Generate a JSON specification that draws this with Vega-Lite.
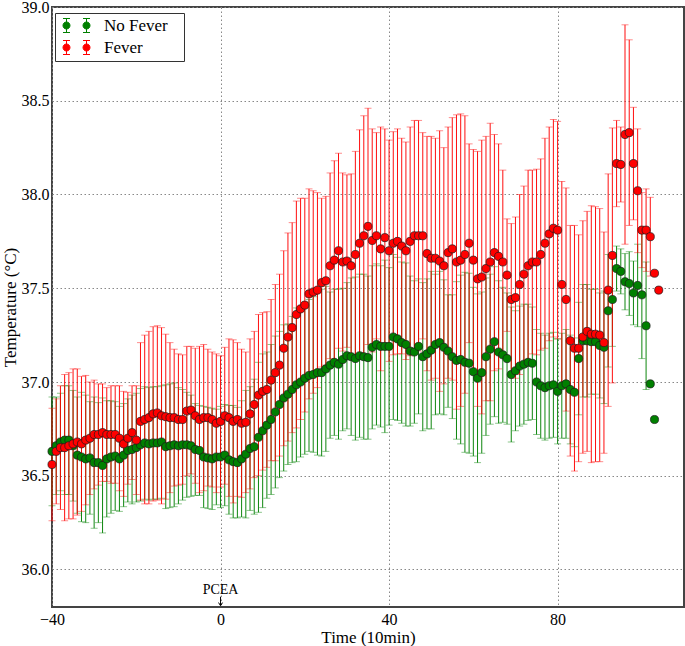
{
  "$schema": "https://vega.github.io/schema/vega-lite/v6.json",
  "width": 632,
  "height": 600,
  "autosize": {"type": "none"},
  "padding": {"left": 52, "top": 7, "right": 1, "bottom": 39},
  "background": "white",
  "config": {
    "view": {"stroke": "#444444", "strokeWidth": 2},
    "font": "Liberation Serif",
    "axis": {
      "labelFont": "Liberation Serif", "titleFont": "Liberation Serif",
      "labelFontSize": 16, "titleFontSize": 17, "titleFontWeight": "normal",
      "labelColor": "black", "titleColor": "black",
      "domain": false, "ticks": false,
      "grid": true, "gridColor": "#888888", "gridDash": [1.5, 2.5], "gridWidth": 1, "gridOpacity": 1
    }
  },
  "datasets": {
    "temps": [
      {"s":"No Fever","t":-40,"m":36.63,"e":0.29},{"s":"No Fever","t":-39,"m":36.66,"e":0.26},{"s":"No Fever","t":-38,"m":36.68,"e":0.26},{"s":"No Fever","t":-37,"m":36.69,"e":0.29},{"s":"No Fever","t":-36,"m":36.69,"e":0.29},
      {"s":"No Fever","t":-35,"m":36.66,"e":0.295},{"s":"No Fever","t":-34,"m":36.61,"e":0.31},{"s":"No Fever","t":-33,"m":36.6,"e":0.345},{"s":"No Fever","t":-32,"m":36.59,"e":0.34},{"s":"No Fever","t":-31,"m":36.595,"e":0.3},
      {"s":"No Fever","t":-30,"m":36.57,"e":0.35},{"s":"No Fever","t":-29,"m":36.57,"e":0.32},{"s":"No Fever","t":-28,"m":36.555,"e":0.36},{"s":"No Fever","t":-27,"m":36.59,"e":0.31},{"s":"No Fever","t":-26,"m":36.6,"e":0.3},
      {"s":"No Fever","t":-25,"m":36.605,"e":0.29},{"s":"No Fever","t":-24,"m":36.59,"e":0.28},{"s":"No Fever","t":-23,"m":36.61,"e":0.275},{"s":"No Fever","t":-22,"m":36.635,"e":0.275},{"s":"No Fever","t":-21,"m":36.64,"e":0.29},
      {"s":"No Fever","t":-20,"m":36.65,"e":0.29},{"s":"No Fever","t":-19,"m":36.665,"e":0.3},{"s":"No Fever","t":-18,"m":36.675,"e":0.3},{"s":"No Fever","t":-17,"m":36.67,"e":0.3},{"s":"No Fever","t":-16,"m":36.675,"e":0.3},
      {"s":"No Fever","t":-15,"m":36.675,"e":0.3},{"s":"No Fever","t":-14,"m":36.68,"e":0.3},{"s":"No Fever","t":-13,"m":36.655,"e":0.33},{"s":"No Fever","t":-12,"m":36.66,"e":0.33},{"s":"No Fever","t":-11,"m":36.665,"e":0.33},
      {"s":"No Fever","t":-10,"m":36.66,"e":0.31},{"s":"No Fever","t":-9,"m":36.665,"e":0.295},{"s":"No Fever","t":-8,"m":36.665,"e":0.28},{"s":"No Fever","t":-7,"m":36.66,"e":0.27},{"s":"No Fever","t":-6,"m":36.64,"e":0.245},
      {"s":"No Fever","t":-5,"m":36.635,"e":0.24},{"s":"No Fever","t":-4,"m":36.6,"e":0.27},{"s":"No Fever","t":-3,"m":36.595,"e":0.27},{"s":"No Fever","t":-2,"m":36.59,"e":0.27},{"s":"No Fever","t":-1,"m":36.6,"e":0.255},
      {"s":"No Fever","t":0,"m":36.6,"e":0.27},{"s":"No Fever","t":1,"m":36.61,"e":0.27},{"s":"No Fever","t":2,"m":36.585,"e":0.29},{"s":"No Fever","t":3,"m":36.575,"e":0.3},{"s":"No Fever","t":4,"m":36.57,"e":0.295},
      {"s":"No Fever","t":5,"m":36.59,"e":0.31},{"s":"No Fever","t":6,"m":36.615,"e":0.34},{"s":"No Fever","t":7,"m":36.645,"e":0.33},{"s":"No Fever","t":8,"m":36.655,"e":0.36},{"s":"No Fever","t":9,"m":36.705,"e":0.4},
      {"s":"No Fever","t":10,"m":36.74,"e":0.41},{"s":"No Fever","t":11,"m":36.77,"e":0.39},{"s":"No Fever","t":12,"m":36.8,"e":0.4},{"s":"No Fever","t":13,"m":36.84,"e":0.405},{"s":"No Fever","t":14,"m":36.88,"e":0.39},
      {"s":"No Fever","t":15,"m":36.915,"e":0.39},{"s":"No Fever","t":16,"m":36.935,"e":0.375},{"s":"No Fever","t":17,"m":36.96,"e":0.39},{"s":"No Fever","t":18,"m":36.985,"e":0.41},{"s":"No Fever","t":19,"m":37.0,"e":0.4},
      {"s":"No Fever","t":20,"m":37.02,"e":0.405},{"s":"No Fever","t":21,"m":37.035,"e":0.405},{"s":"No Fever","t":22,"m":37.04,"e":0.415},{"s":"No Fever","t":23,"m":37.05,"e":0.44},{"s":"No Fever","t":24,"m":37.05,"e":0.445},
      {"s":"No Fever","t":25,"m":37.07,"e":0.44},{"s":"No Fever","t":26,"m":37.09,"e":0.39},{"s":"No Fever","t":27,"m":37.105,"e":0.39},{"s":"No Fever","t":28,"m":37.095,"e":0.4},{"s":"No Fever","t":29,"m":37.12,"e":0.38},
      {"s":"No Fever","t":30,"m":37.14,"e":0.39},{"s":"No Fever","t":31,"m":37.135,"e":0.42},{"s":"No Fever","t":32,"m":37.125,"e":0.435},{"s":"No Fever","t":33,"m":37.14,"e":0.435},{"s":"No Fever","t":34,"m":37.135,"e":0.44},
      {"s":"No Fever","t":35,"m":37.13,"e":0.435},{"s":"No Fever","t":36,"m":37.185,"e":0.435},{"s":"No Fever","t":37,"m":37.2,"e":0.43},{"s":"No Fever","t":38,"m":37.19,"e":0.43},{"s":"No Fever","t":39,"m":37.19,"e":0.46},
      {"s":"No Fever","t":40,"m":37.19,"e":0.42},{"s":"No Fever","t":41,"m":37.24,"e":0.44},{"s":"No Fever","t":42,"m":37.23,"e":0.435},{"s":"No Fever","t":43,"m":37.21,"e":0.43},{"s":"No Fever","t":44,"m":37.2,"e":0.435},
      {"s":"No Fever","t":45,"m":37.165,"e":0.4},{"s":"No Fever","t":46,"m":37.16,"e":0.38},{"s":"No Fever","t":47,"m":37.19,"e":0.36},{"s":"No Fever","t":48,"m":37.135,"e":0.395},{"s":"No Fever","t":49,"m":37.15,"e":0.4},
      {"s":"No Fever","t":50,"m":37.17,"e":0.42},{"s":"No Fever","t":51,"m":37.2,"e":0.375},{"s":"No Fever","t":52,"m":37.21,"e":0.38},{"s":"No Fever","t":53,"m":37.185,"e":0.36},{"s":"No Fever","t":54,"m":37.165,"e":0.3},
      {"s":"No Fever","t":55,"m":37.135,"e":0.33},{"s":"No Fever","t":56,"m":37.115,"e":0.42},{"s":"No Fever","t":57,"m":37.12,"e":0.45},{"s":"No Fever","t":58,"m":37.105,"e":0.48},{"s":"No Fever","t":59,"m":37.1,"e":0.48},
      {"s":"No Fever","t":60,"m":37.055,"e":0.45},{"s":"No Fever","t":61,"m":37.02,"e":0.45},{"s":"No Fever","t":62,"m":37.05,"e":0.43},{"s":"No Fever","t":63,"m":37.135,"e":0.42},{"s":"No Fever","t":64,"m":37.175,"e":0.4},
      {"s":"No Fever","t":65,"m":37.215,"e":0.4},{"s":"No Fever","t":66,"m":37.16,"e":0.38},{"s":"No Fever","t":67,"m":37.145,"e":0.36},{"s":"No Fever","t":68,"m":37.125,"e":0.35},{"s":"No Fever","t":69,"m":37.04,"e":0.36},
      {"s":"No Fever","t":70,"m":37.06,"e":0.32},{"s":"No Fever","t":71,"m":37.085,"e":0.32},{"s":"No Fever","t":72,"m":37.095,"e":0.32},{"s":"No Fever","t":73,"m":37.105,"e":0.31},{"s":"No Fever","t":74,"m":37.1,"e":0.3},
      {"s":"No Fever","t":75,"m":37.0,"e":0.28},{"s":"No Fever","t":76,"m":36.98,"e":0.28},{"s":"No Fever","t":77,"m":36.97,"e":0.28},{"s":"No Fever","t":78,"m":36.98,"e":0.28},{"s":"No Fever","t":79,"m":36.985,"e":0.28},
      {"s":"No Fever","t":80,"m":36.95,"e":0.28},{"s":"No Fever","t":81,"m":36.98,"e":0.28},{"s":"No Fever","t":82,"m":36.99,"e":0.29},{"s":"No Fever","t":83,"m":36.96,"e":0.29},{"s":"No Fever","t":84,"m":36.945,"e":0.29},
      {"s":"No Fever","t":85,"m":37.125,"e":0.3},{"s":"No Fever","t":86,"m":37.22,"e":0.3},{"s":"No Fever","t":87,"m":37.22,"e":0.3},{"s":"No Fever","t":88,"m":37.215,"e":0.28},{"s":"No Fever","t":89,"m":37.215,"e":0.28},
      {"s":"No Fever","t":90,"m":37.195,"e":0.28},{"s":"No Fever","t":91,"m":37.185,"e":0.3},{"s":"No Fever","t":92,"m":37.38,"e":0.3},{"s":"No Fever","t":93,"m":37.44,"e":0.25},{"s":"No Fever","t":94,"m":37.605,"e":0.12},
      {"s":"No Fever","t":95,"m":37.59,"e":0.12},{"s":"No Fever","t":96,"m":37.535,"e":0.15},{"s":"No Fever","t":97,"m":37.525,"e":0.17},{"s":"No Fever","t":98,"m":37.475,"e":0.17},{"s":"No Fever","t":99,"m":37.515,"e":0.22},
      {"s":"No Fever","t":100,"m":37.465,"e":0.34},{"s":"No Fever","t":101,"m":37.3,"e":0.34},{"s":"No Fever","t":102,"m":36.99,"e":0},{"s":"No Fever","t":103,"m":36.8,"e":0},

      {"s":"Fever","t":-40,"m":36.56,"e":0.3},{"s":"Fever","t":-39,"m":36.63,"e":0.28},{"s":"Fever","t":-38,"m":36.65,"e":0.33},{"s":"Fever","t":-37,"m":36.65,"e":0.39},{"s":"Fever","t":-36,"m":36.66,"e":0.39},
      {"s":"Fever","t":-35,"m":36.67,"e":0.4},{"s":"Fever","t":-34,"m":36.68,"e":0.39},{"s":"Fever","t":-33,"m":36.67,"e":0.36},{"s":"Fever","t":-32,"m":36.69,"e":0.345},{"s":"Fever","t":-31,"m":36.7,"e":0.3},
      {"s":"Fever","t":-30,"m":36.72,"e":0.29},{"s":"Fever","t":-29,"m":36.72,"e":0.27},{"s":"Fever","t":-28,"m":36.73,"e":0.26},{"s":"Fever","t":-27,"m":36.72,"e":0.25},{"s":"Fever","t":-26,"m":36.72,"e":0.26},
      {"s":"Fever","t":-25,"m":36.72,"e":0.26},{"s":"Fever","t":-24,"m":36.7,"e":0.28},{"s":"Fever","t":-23,"m":36.67,"e":0.28},{"s":"Fever","t":-22,"m":36.7,"e":0.245},{"s":"Fever","t":-21,"m":36.73,"e":0.25},
      {"s":"Fever","t":-20,"m":36.69,"e":0.29},{"s":"Fever","t":-19,"m":36.79,"e":0.42},{"s":"Fever","t":-18,"m":36.8,"e":0.45},{"s":"Fever","t":-17,"m":36.81,"e":0.46},{"s":"Fever","t":-16,"m":36.83,"e":0.465},
      {"s":"Fever","t":-15,"m":36.835,"e":0.465},{"s":"Fever","t":-14,"m":36.82,"e":0.47},{"s":"Fever","t":-13,"m":36.815,"e":0.44},{"s":"Fever","t":-12,"m":36.81,"e":0.4},{"s":"Fever","t":-11,"m":36.81,"e":0.365},
      {"s":"Fever","t":-10,"m":36.8,"e":0.35},{"s":"Fever","t":-9,"m":36.8,"e":0.345},{"s":"Fever","t":-8,"m":36.845,"e":0.345},{"s":"Fever","t":-7,"m":36.85,"e":0.34},{"s":"Fever","t":-6,"m":36.82,"e":0.36},
      {"s":"Fever","t":-5,"m":36.8,"e":0.39},{"s":"Fever","t":-4,"m":36.81,"e":0.39},{"s":"Fever","t":-3,"m":36.81,"e":0.365},{"s":"Fever","t":-2,"m":36.8,"e":0.36},{"s":"Fever","t":-1,"m":36.78,"e":0.37},
      {"s":"Fever","t":0,"m":36.79,"e":0.35},{"s":"Fever","t":1,"m":36.82,"e":0.365},{"s":"Fever","t":2,"m":36.81,"e":0.42},{"s":"Fever","t":3,"m":36.79,"e":0.435},{"s":"Fever","t":4,"m":36.8,"e":0.41},
      {"s":"Fever","t":5,"m":36.78,"e":0.395},{"s":"Fever","t":6,"m":36.785,"e":0.375},{"s":"Fever","t":7,"m":36.83,"e":0.4},{"s":"Fever","t":8,"m":36.88,"e":0.39},{"s":"Fever","t":9,"m":36.93,"e":0.43},
      {"s":"Fever","t":10,"m":36.95,"e":0.42},{"s":"Fever","t":11,"m":36.96,"e":0.415},{"s":"Fever","t":12,"m":37.01,"e":0.43},{"s":"Fever","t":13,"m":37.05,"e":0.47},{"s":"Fever","t":14,"m":37.09,"e":0.485},
      {"s":"Fever","t":15,"m":37.18,"e":0.52},{"s":"Fever","t":16,"m":37.24,"e":0.555},{"s":"Fever","t":17,"m":37.29,"e":0.56},{"s":"Fever","t":18,"m":37.36,"e":0.605},{"s":"Fever","t":19,"m":37.39,"e":0.59},
      {"s":"Fever","t":20,"m":37.41,"e":0.57},{"s":"Fever","t":21,"m":37.47,"e":0.56},{"s":"Fever","t":22,"m":37.48,"e":0.54},{"s":"Fever","t":23,"m":37.49,"e":0.52},{"s":"Fever","t":24,"m":37.53,"e":0.45},
      {"s":"Fever","t":25,"m":37.54,"e":0.45},{"s":"Fever","t":26,"m":37.62,"e":0.495},{"s":"Fever","t":27,"m":37.65,"e":0.53},{"s":"Fever","t":28,"m":37.7,"e":0.52},{"s":"Fever","t":29,"m":37.64,"e":0.475},
      {"s":"Fever","t":30,"m":37.645,"e":0.46},{"s":"Fever","t":31,"m":37.62,"e":0.49},{"s":"Fever","t":32,"m":37.68,"e":0.55},{"s":"Fever","t":33,"m":37.74,"e":0.605},{"s":"Fever","t":34,"m":37.78,"e":0.64},
      {"s":"Fever","t":35,"m":37.83,"e":0.63},{"s":"Fever","t":36,"m":37.755,"e":0.595},{"s":"Fever","t":37,"m":37.78,"e":0.55},{"s":"Fever","t":38,"m":37.71,"e":0.65},{"s":"Fever","t":39,"m":37.77,"e":0.58},
      {"s":"Fever","t":40,"m":37.7,"e":0.59},{"s":"Fever","t":41,"m":37.74,"e":0.595},{"s":"Fever","t":42,"m":37.75,"e":0.6},{"s":"Fever","t":43,"m":37.725,"e":0.575},{"s":"Fever","t":44,"m":37.7,"e":0.58},
      {"s":"Fever","t":45,"m":37.75,"e":0.61},{"s":"Fever","t":46,"m":37.78,"e":0.615},{"s":"Fever","t":47,"m":37.78,"e":0.615},{"s":"Fever","t":48,"m":37.78,"e":0.55},{"s":"Fever","t":49,"m":37.685,"e":0.625},
      {"s":"Fever","t":50,"m":37.66,"e":0.65},{"s":"Fever","t":51,"m":37.66,"e":0.64},{"s":"Fever","t":52,"m":37.645,"e":0.695},{"s":"Fever","t":53,"m":37.62,"e":0.63},{"s":"Fever","t":54,"m":37.69,"e":0.67},
      {"s":"Fever","t":55,"m":37.71,"e":0.7},{"s":"Fever","t":56,"m":37.64,"e":0.785},{"s":"Fever","t":57,"m":37.65,"e":0.78},{"s":"Fever","t":58,"m":37.68,"e":0.74},{"s":"Fever","t":59,"m":37.74,"e":0.53},
      {"s":"Fever","t":60,"m":37.65,"e":0.59},{"s":"Fever","t":61,"m":37.55,"e":0.68},{"s":"Fever","t":62,"m":37.56,"e":0.73},{"s":"Fever","t":63,"m":37.605,"e":0.705},{"s":"Fever","t":64,"m":37.64,"e":0.74},
      {"s":"Fever","t":65,"m":37.69,"e":0.63},{"s":"Fever","t":66,"m":37.67,"e":0.6},{"s":"Fever","t":67,"m":37.64,"e":0.49},{"s":"Fever","t":68,"m":37.57,"e":0.3},{"s":"Fever","t":69,"m":37.44,"e":0.405},
      {"s":"Fever","t":70,"m":37.45,"e":0.43},{"s":"Fever","t":71,"m":37.52,"e":0.48},{"s":"Fever","t":72,"m":37.575,"e":0.47},{"s":"Fever","t":73,"m":37.62,"e":0.51},{"s":"Fever","t":74,"m":37.64,"e":0.49},
      {"s":"Fever","t":75,"m":37.64,"e":0.495},{"s":"Fever","t":76,"m":37.68,"e":0.51},{"s":"Fever","t":77,"m":37.74,"e":0.56},{"s":"Fever","t":78,"m":37.79,"e":0.57},{"s":"Fever","t":79,"m":37.82,"e":0.58},
      {"s":"Fever","t":80,"m":37.81,"e":0.58},{"s":"Fever","t":81,"m":37.52,"e":0.55},{"s":"Fever","t":82,"m":37.44,"e":0.595},{"s":"Fever","t":83,"m":37.22,"e":0.615},{"s":"Fever","t":84,"m":37.18,"e":0.655},
      {"s":"Fever","t":85,"m":37.18,"e":0.605},{"s":"Fever","t":86,"m":37.24,"e":0.62},{"s":"Fever","t":87,"m":37.27,"e":0.64},{"s":"Fever","t":88,"m":37.255,"e":0.685},{"s":"Fever","t":89,"m":37.255,"e":0.68},
      {"s":"Fever","t":90,"m":37.25,"e":0.675},{"s":"Fever","t":91,"m":37.21,"e":0.59},{"s":"Fever","t":92,"m":37.49,"e":0.62},{"s":"Fever","t":93,"m":37.675,"e":0.68},{"s":"Fever","t":94,"m":38.165,"e":0.23},
      {"s":"Fever","t":95,"m":38.16,"e":0.2},{"s":"Fever","t":96,"m":38.32,"e":0.585},{"s":"Fever","t":97,"m":38.33,"e":0.495},{"s":"Fever","t":98,"m":38.165,"e":0.3},{"s":"Fever","t":99,"m":38.02,"e":0.33},
      {"s":"Fever","t":100,"m":37.81,"e":0.2},{"s":"Fever","t":101,"m":37.81,"e":0.22},{"s":"Fever","t":102,"m":37.775,"e":0.21},{"s":"Fever","t":103,"m":37.58,"e":0},{"s":"Fever","t":104,"m":37.49,"e":0}
    ]
  },
  "layer": [
    {
      "data": {"name": "temps"},
      "mark": {"type": "errorbar", "thickness": 1, "rule": {"opacity": 0.95}, "ticks": {"opacity": 0.45, "size": 7}},
      "encoding": {
        "x": {"field": "t", "type": "quantitative", "scale": {"domain": [-40, 110], "nice": false, "zero": false},
              "axis": {"values": [-40, 0, 40, 80], "title": "Time (10min)", "labelFont": "Liberation Serif", "titleFont": "Liberation Serif", "labelPadding": 4, "titlePadding": 2, "labelFlush": false}},
        "y": {"field": "m", "type": "quantitative", "scale": {"domain": [35.8, 39.0], "nice": false, "zero": false},
              "axis": {"values": [36.0, 36.5, 37.0, 37.5, 38.0, 38.5, 39.0], "format": ".1f", "title": "Temperature (°C)", "labelFont": "Liberation Serif", "titleFont": "Liberation Serif", "labelPadding": 3, "titlePadding": 2}},
        "yError": {"field": "e"},
        "color": {"field": "s", "type": "nominal",
          "scale": {"domain": ["No Fever", "Fever"], "range": ["#008000", "#ff0000"]},
          "legend": {
            "title": null, "orient": "none", "legendX": 3, "legendY": 6,
            "symbolType": "M -0.93 0 A 0.5 0.5 0 1 0 -1.93 0 A 0.5 0.5 0 1 0 -0.93 0 Z M -1.43 -1 L -1.43 1 M -1.93 -1 L -0.93 -1 M -1.93 1 L -0.93 1 M 1.93 0 A 0.5 0.5 0 1 0 0.93 0 A 0.5 0.5 0 1 0 1.93 0 Z M 1.43 -1 L 1.43 1 M 0.93 -1 L 1.93 -1 M 0.93 1 L 1.93 1",
            "symbolSize": 196, "symbolStrokeWidth": 1, "symbolOpacity": 1, "symbolOffset": 9,
            "labelFont": "Liberation Serif", "labelFontSize": 17, "labelColor": "black", "labelOffset": 19,
            "labelExpr": "datum.label + '\u2800'",
            "strokeColor": "#333333", "fillColor": "white", "padding": 4, "rowPadding": 3,
            "encode": {"symbols": {"update": {"fill": {"scale": "color", "field": "value"}, "stroke": {"scale": "color", "field": "value"}, "opacity": {"value": 1}, "fillOpacity": {"value": 1}, "strokeOpacity": {"value": 1}}}}
          }
        }
      }
    },
    {
      "data": {"name": "temps"},
      "mark": {"type": "point", "filled": true, "size": 66, "opacity": 1, "stroke": "#1a1a1a", "strokeWidth": 0.7},
      "encoding": {
        "x": {"field": "t", "type": "quantitative"},
        "y": {"field": "m", "type": "quantitative"},
        "color": {"field": "s", "type": "nominal"}
      }
    },
    {
      "data": {"values": [{}]},
      "mark": {"type": "text", "fontSize": 14, "font": "Liberation Serif", "color": "black", "baseline": "middle", "align": "center"},
      "encoding": {"x": {"datum": 0}, "y": {"datum": 35.893}, "text": {"value": "PCEA"}}
    },
    {
      "data": {"values": [{}]},
      "mark": {"type": "rule", "color": "black", "strokeWidth": 1},
      "encoding": {"x": {"datum": 0}, "y": {"datum": 35.855}, "y2": {"datum": 35.81}}
    },
    {
      "data": {"values": [{}]},
      "mark": {"type": "point", "shape": "M -1 -1 L 0 0.6 L 1 -1", "filled": false, "color": "black", "strokeWidth": 1, "size": 16, "opacity": 1},
      "encoding": {"x": {"datum": 0}, "y": {"datum": 35.813}}
    }
  ]
}
